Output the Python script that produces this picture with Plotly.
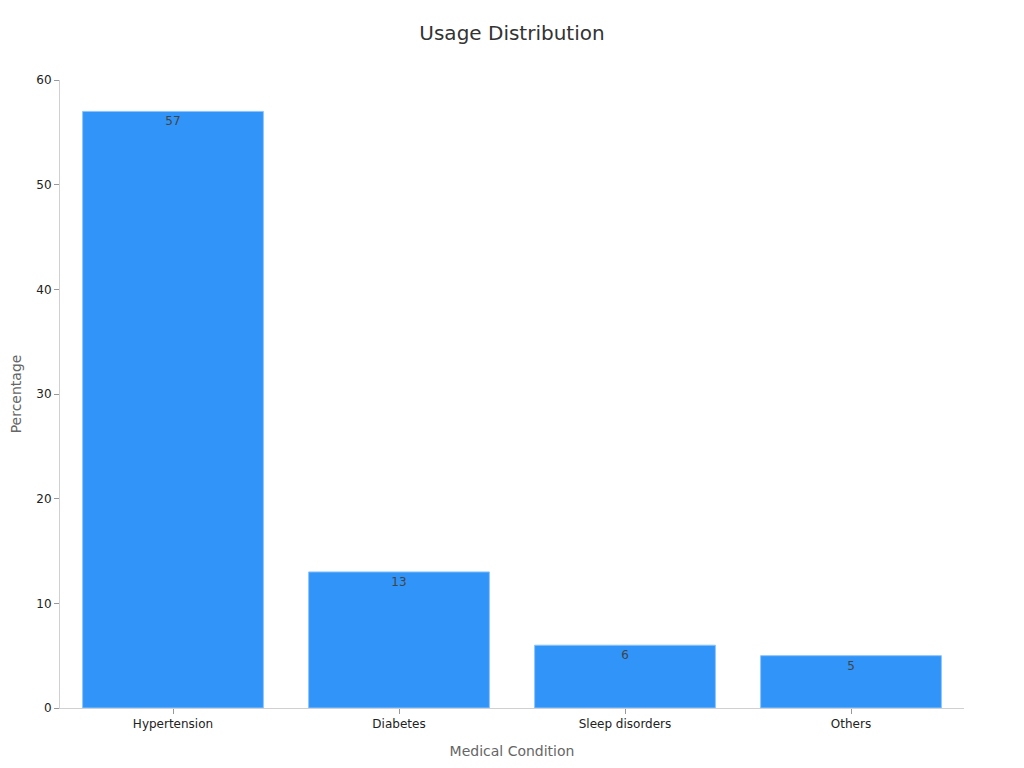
import plotly.graph_objects as go

categories = ["Hypertension", "Diabetes", "Sleep disorders", "Others"]
values = [57, 13, 6, 5]

fig = go.Figure(go.Bar(
    x=categories,
    y=values,
    text=[str(v) for v in values],
    textposition="inside",
    insidetextanchor="end",
    textfont=dict(color="#444444", size=12),
    marker=dict(color="#3094F9", line=dict(color="#8CC4FB", width=1)),
))

fig.update_layout(
    width=1024, height=768,
    title=dict(text="Usage Distribution", x=(512 - 8) / 1024, xanchor="center",
               y=1 - 25 / 768, yanchor="middle",
               font=dict(size=20, color="#333333")),
    font=dict(family="DejaVu Sans", size=12, color="#333333"),
    paper_bgcolor="white", plot_bgcolor="white",
    margin=dict(l=52, r=68, t=72, b=68, autoexpand=False),
    bargap=0.2,
    showlegend=False,
    xaxis=dict(
        title=dict(text="Medical Condition", font=dict(size=14, color="#666666")),
        automargin=False,
        showline=True, linecolor="#D0D0D0", linewidth=1,
        ticks="outside", tickcolor="#999999", ticklen=5,
        showgrid=False, tickfont=dict(size=12, color="#222222"),
    ),
    yaxis=dict(
        title=dict(text="Percentage", font=dict(size=14, color="#666666")),
        automargin=False,
        range=[0, 60], dtick=10,
        showline=True, linecolor="#D0D0D0", linewidth=1,
        ticks="outside", tickcolor="#999999", ticklen=5,
        showgrid=False, zeroline=False, tickfont=dict(size=12, color="#222222"),
    ),
)

fig.write_html("out.html")
